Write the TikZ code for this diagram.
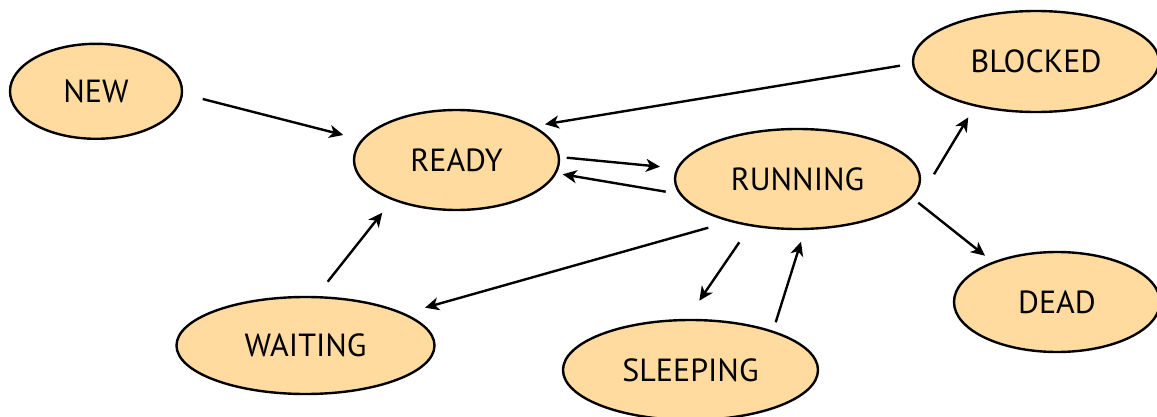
\documentclass[tikz,border=0pt]{standalone}
\usepackage{fontspec}
\setmainfont{PT Sans}
\usetikzlibrary{shapes.geometric,arrows.meta,calc}
\definecolor{statefill}{RGB}{255,219,160}
\begin{document}
\begin{tikzpicture}[x=1pt,y=-1pt,
  state/.style={ellipse, draw=black, line width=2.4pt, fill=statefill, inner sep=0pt,
    font=\fontsize{32}{38}\selectfont},
  arr/.style={line width=2.4pt, -{Stealth[length=14pt,width=13pt,inset=4pt]}}]
\useasboundingbox (0,0) rectangle (1157,417);
\node[state, minimum width=172pt, minimum height=95pt] (new) at (96,91.3) {NEW};
\node[state, minimum width=205pt, minimum height=100pt] (ready) at (456.5,160) {READY};
\node[state, minimum width=245pt, minimum height=100pt] (running) at (797.5,179) {RUNNING};
\node[state, minimum width=246pt, minimum height=101pt] (blocked) at (1036,61.5) {BLOCKED};
\node[state, minimum width=206pt, minimum height=100pt] (dead) at (1057,302) {DEAD};
\node[state, minimum width=258pt, minimum height=97pt] (waiting) at (305.5,345.5) {WAITING};
\node[state, minimum width=255pt, minimum height=100pt] (sleeping) at (690.5,370) {SLEEPING};
\draw[arr] ($(new.center)+(106.7,7.7)$) -- ($(ready.center)+(-113.2,-25)$);
\draw[arr] ($(blocked.center)+(-136,4.2)$) -- ($(ready.center)+(88.5,-35.7)$);
\draw[arr] ($(ready.center)+(110.2,-2.3)$) -- ($(running.center)+(-137.5,-12.3)$);
\draw[arr] ($(running.center)+(-131.8,12.7)$) -- ($(ready.center)+(106.2,14.3)$);
\draw[arr] ($(waiting.center)+(22.2,-63.8)$) -- ($(ready.center)+(-74.2,52.7)$);
\draw[arr] ($(running.center)+(-89.2,48.7)$) -- ($(waiting.center)+(119.5,-37.8)$);
\draw[arr] ($(running.center)+(-58.2,63.3)$) -- ($(sleeping.center)+(8.8,-69.3)$);
\draw[arr] ($(sleeping.center)+(85.2,-47.7)$) -- ($(running.center)+(3.5,62.7)$);
\draw[arr] ($(running.center)+(136.5,-4.7)$) -- ($(blocked.center)+(-67.7,55.8)$);
\draw[arr] ($(running.center)+(120.8,23.7)$) -- ($(dead.center)+(-72,-46.3)$);
\end{tikzpicture}
\end{document}
